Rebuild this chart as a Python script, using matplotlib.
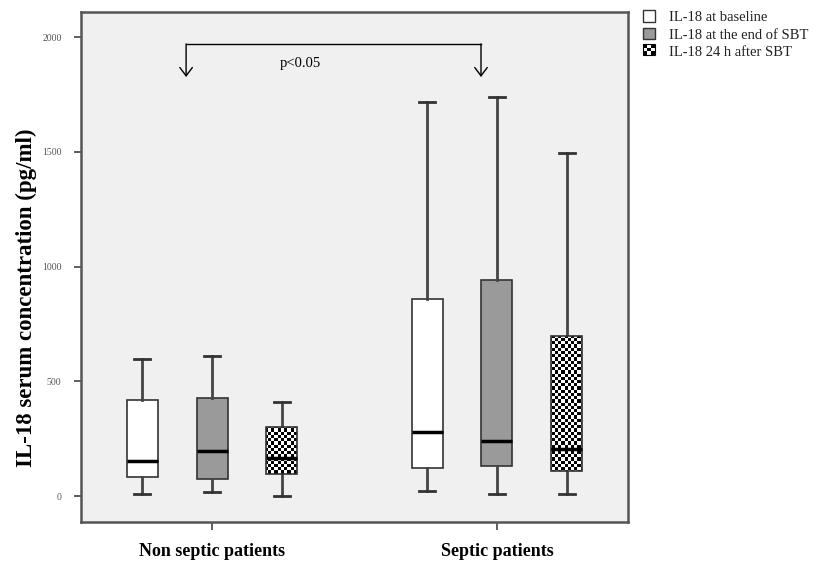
import numpy as np
import matplotlib

matplotlib.use("Agg")

import matplotlib.pyplot as plt
from matplotlib.patches import Patch, Rectangle

plt.rcParams["font.family"] = ["Liberation Serif", "DejaVu Serif"]

# values (pg/ml)
groups = ["Non septic patients", "Septic patients"]
series = ["IL-18 at baseline", "IL-18 at the end of SBT", "IL-18 24 h after SBT"]

whislo = [[10, 17, 0], [22, 9, 9]]
q1 = [[83, 74, 96], [122, 131, 109]]
med = [[152, 196, 165], [279, 240, 205]]
q3 = [[418, 427, 301], [858, 941, 697]]
whishi = [[597, 610, 410], [1717, 1739, 1495]]

fills = ["white", "#9a9a9a", "checker"]
offsets = [-0.245, 0, 0.245]

fig = plt.figure(figsize=(8.17, 5.66), dpi=100)
ax = fig.add_axes([0.0991, 0.0777, 0.6696, 0.901])
ax.set_facecolor("#f0f0f0")

stats, positions = [], []
for g in range(len(groups)):
    for s in range(len(series)):
        stats.append(dict(whislo=whislo[g][s], q1=q1[g][s], med=med[g][s],
                          q3=q3[g][s], whishi=whishi[g][s], fliers=[]))
        positions.append(g + 1 + offsets[s])

bp = ax.bxp(stats, positions=positions, widths=0.109, patch_artist=True,
            showfliers=False,
            boxprops=dict(edgecolor="#333333", linewidth=1.2),
            whiskerprops=dict(color="#444444", linewidth=2),
            capprops=dict(color="#333333", linewidth=2),
            medianprops=dict(color="black", linewidth=2.5),
            capwidths=0.055)

ax.set_xlim(0.54, 2.46)
ax.set_ylim(-113, 2109)

# checkerboard fill for the "24 h after SBT" boxes
ncol, nrow = 170, 158
checker = (np.add.outer(np.arange(nrow), np.arange(ncol)) % 2).astype(float)
for i, box in enumerate(bp["boxes"]):
    kind = fills[i % 3]
    if kind == "checker":
        box.set_facecolor("none")
        box.set_zorder(3)
        img = ax.imshow(checker, cmap="gray", extent=(0.54, 2.46, -113, 2109),
                        interpolation="nearest", aspect="auto", zorder=2)
        img.set_clip_path(box)
    else:
        box.set_facecolor(kind)
for m in bp["medians"]:
    m.set_zorder(4)

# significance bracket
bx0, bx1, by, tip = 0.909, 1.944, 1970, 1826
ax.plot([bx0, bx1], [by, by], color="black", lw=1)
for bx in (bx0, bx1):
    ax.annotate("", xy=(bx, tip), xytext=(bx, by),
                arrowprops=dict(arrowstyle="->,head_width=0.45,head_length=0.6",
                                color="black", lw=1, shrinkA=0, shrinkB=0))
ax.text(1.309, 1887, "p<0.05", ha="center", va="center", fontsize=10.5)

ax.set_xticks([1, 2])
ax.set_xticklabels(groups, fontsize=13, fontweight="bold")
ax.set_yticks([0, 500, 1000, 1500, 2000])
ax.tick_params(axis="y", labelsize=7, labelcolor="#555555", length=5, pad=9,
               color="#444444", width=1.2)
ax.tick_params(axis="x", length=6, pad=9, color="#444444", width=1.2)
ax.set_ylabel("IL-18 serum concentration (pg/ml)", fontsize=16.5, fontweight="bold")
ax.yaxis.set_label_coords(-0.08, 0.44)

for sp in ax.spines.values():
    sp.set_color("#555555")
    sp.set_linewidth(1.8)


class CheckerHandler:
    def legend_artist(self, legend, orig_handle, fontsize, handlebox):
        x0, y0 = handlebox.xdescent, handlebox.ydescent
        w, h = handlebox.width, handlebox.height
        tr = handlebox.get_transform()
        handlebox.add_artist(Rectangle((x0, y0), w, h, facecolor="white",
                                       edgecolor="black", lw=0.8, transform=tr))
        for i in range(3):
            for j in range(3):
                if (i + j) % 2 == 0:
                    handlebox.add_artist(Rectangle((x0 + i * w / 3, y0 + j * h / 3),
                                                   w / 3, h / 3, facecolor="black",
                                                   lw=0, transform=tr))
        return handlebox


handles = [Patch(facecolor="white", edgecolor="#333333"),
           Patch(facecolor="#9a9a9a", edgecolor="#333333"),
           "checker"]
leg = fig.legend(handles, series, loc="upper left", bbox_to_anchor=(0.787, 0.982),
                 frameon=False, fontsize=10.5, handlelength=0.85, handleheight=0.85,
                 handletextpad=0.95, labelspacing=0.25, borderpad=0,
                 borderaxespad=0, labelcolor="#222222",
                 handler_map={str: CheckerHandler()})

fig.savefig("out.png", dpi=100)
